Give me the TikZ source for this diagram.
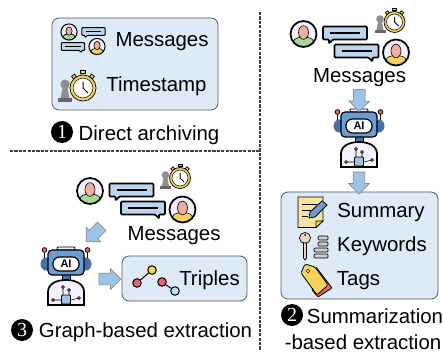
\documentclass[tikz,border=0pt]{standalone}
\usepackage{fontspec}
\setmainfont{Liberation Sans}
\usetikzlibrary{shapes.arrows}
\definecolor{boxblue}{HTML}{DEEAF7}
\definecolor{arrowblue}{HTML}{9DC3E6}
\definecolor{skin}{HTML}{EFAE9B}
\definecolor{shirtgreen}{HTML}{A5D89A}
\definecolor{shirtyellow}{HTML}{F5D25E}
\definecolor{robotblue}{HTML}{6C9BD8}
\definecolor{robotdark}{HTML}{4A6FA8}
\definecolor{dotred}{HTML}{E8636B}
\definecolor{pawngray}{HTML}{8E8E8E}
\newcommand{\iconlw}{1.7pt}
\tikzset{
  small icon/.code = {\def\iconlw{1pt}},
  iconline/.style = {line width=\iconlw, draw=black},
  panel/.style = {draw=black!65, fill=boxblue, line width=.8pt, rounded corners=7pt},
  label/.style = {font=\fontsize{20.4}{24}\selectfont, inner sep=0pt, outer sep=0pt},
  numdot/.style = {circle, fill=black, text=white, inner sep=0pt, minimum size=22pt,
                   font=\fontsize{20}{20}\selectfont\bfseries\setmainfont{Liberation Serif}},
  sepline/.style = {dashed, draw=black!75, line width=1.2pt, dash pattern=on 3.2pt off 1.2pt},
  flowarrow/.style = {single arrow, draw=black!45, fill=arrowblue, line width=.7pt, sloped,
                      allow upside down, inner xsep=0pt, inner ysep=5.5pt, text height=0pt, text depth=0pt,
                      minimum height=22pt, single arrow head extend=4.5pt, single arrow tip angle=90},
  tripledot/.style = {circle, draw=black, line width=1pt, inner sep=0pt, minimum size=8.5pt},
  pics/person/.style = {code = {
    \fill[blue!6] (0,0) circle (13);
    \begin{scope}
      \clip (0,0) circle (13);
      \draw[line width=.6pt, fill=#1] (-10,13) -- (-10,8) .. controls (-10,4.5) and (-5,3) .. (0,3)
        .. controls (5,3) and (10,4.5) .. (10,8) -- (10,13) -- cycle;
      \draw[line width=.6pt, fill=skin] (0,-1.5) ellipse (5 and 6.8);
    \end{scope}
    \draw[iconline] (0,0) circle (13);
  }},
  pics/bubble/.style = {code = {
    \draw[iconline, fill=arrowblue!70, rounded corners=1pt]
      (-22,-6.5) -- (22,-6.5) -- (22,6.5) -- (-12,6.5) -- (-16,10.5) -- (-16,6.5) -- (-22,6.5) -- cycle;
    \draw[iconline] (-15,0) -- (15,0);
  }},
  pics/chat/.style = {code = {
    \pic at (0,0) {person=shirtgreen};
    \pic at (41.5,-1) {bubble};
    \pic[xscale=-1] at (53,17) {bubble};
    \pic at (92.5,18.5) {person=shirtyellow};
  }},
  pics/stopwatch/.style = {code = {
    \fill[pawngray] (-14.5,-3) circle (3.8);
    \fill[pawngray] (-16.5,0) -- (-12.5,0) -- (-11,8) -- (-18,8) -- cycle;
    \fill[black!60] (-20,8) rectangle (-9,11);
    \draw[line width=.7pt, fill=shirtyellow] (-2,-14) rectangle (2,-12);
    \draw[line width=.7pt, fill=shirtyellow, rotate=38] (-1.5,-13) rectangle (1.5,-10.5);
    \draw[line width=.7pt, fill=shirtyellow, rotate=-38] (-1.5,-13) rectangle (1.5,-10.5);
    \draw[line width=.7pt, fill=shirtyellow] (0,0) circle (10.5);
    \draw[line width=.5pt, fill=white] (0,0) circle (8);
    \draw[line width=1pt] (0,-5) -- (0,0) -- (4,4);
  }},
  pics/robot/.style = {code = {
    \coordinate (-top) at (0,-30);
    \coordinate (-bottom) at (0,30);
    \coordinate (-right) at (26,3);
    \draw[line width=.8pt] (-21.5,-26) -- (-21.5,-12) (21.5,-26) -- (21.5,-12);
    \draw[line width=.7pt, fill=dotred] (-21.5,-26) circle (2.4) (21.5,-26) circle (2.4);
    \fill[robotdark] (-20,-12) ellipse (5.5 and 6.5) (20,-12) ellipse (5.5 and 6.5);
    \draw[line width=.8pt, fill=blue!5, rounded corners=1pt] (-9,-29) rectangle (9,-26);
    \draw[line width=.9pt, fill=robotdark] (-4,-2) rectangle (4,5);
    \draw[line width=1.2pt, fill=robotblue, rounded corners=4pt] (-18,-26) rectangle (18,-1);
    \draw[line width=1.2pt, fill=white, rounded corners=6.5pt] (-13,-19) rectangle (13,-5);
    \node[inner sep=0pt, font=\fontsize{11}{11}\selectfont\bfseries] (-face) at (0,-12) {AI};
    \draw[iconline, fill=blue!5] (-18,29) -- (-18,16) .. controls (-18,8) and (-10,4) .. (0,4)
      .. controls (10,4) and (18,8) .. (18,16) -- (18,29) -- cycle;
    \draw[line width=.6pt] (-3,11) -- (-3,19) (3,13) -- (3,19) (-13,24) -- (-5,24) (13,22) -- (5,24);
    \draw[line width=.6pt, fill=dotred] (-3,11) circle (1.5) (3,14) circle (1.5)
      (-13,24) circle (1.5) (13,22) circle (1.5);
    \draw[line width=.8pt, fill=arrowblue, rounded corners=1pt] (-4.5,19) rectangle (4.5,28);
  }},
  pics/note/.style = {code = {
    \draw[line width=.8pt, fill=shirtyellow!60] (298,197) -- (323,197) -- (323,221) -- (316,227.5) -- (298,227.5) -- cycle;
    \draw[line width=.8pt, fill=shirtyellow] (316,227.5) -- (316,221) -- (323,221) -- cycle;
    \draw[line width=.7pt] (302,204) -- (317,204) (302,210) -- (313,210) (302,216) -- (308,216);
    \draw[line width=.8pt, fill=robotblue] (309,218) -- (310,212) -- (322,201) -- (327,205) -- (315,217) -- cycle;
  }},
  pics/keylist/.style = {code = {
    \draw[line width=.7pt, fill=black!25!orange!25!white] (305,238) circle (5.5);
    \draw[line width=.7pt, fill=black!25!orange!25!white] (303.5,243) -- (303.5,258) -- (305,260) -- (306.5,258) -- (306.5,243) -- cycle;
    \fill[black] (305,235) circle (1);
    \foreach \barx/\bary in {318/236, 318/242, 314/248, 314/254}
      \draw[line width=.7pt, fill=black!20, rounded corners=1pt] (\barx,\bary) rectangle (328,\bary+4);
  }},
  pics/tagpair/.style = {code = {
    \draw[line width=.8pt, fill=dotred, rounded corners=1pt] (316,267) -- (332,288) -- (318,297) -- (312,290) -- cycle;
    \draw[line width=.8pt, fill=shirtyellow, rounded corners=1.5pt] (305,264) -- (301,273) -- (317,295) -- (328,285) -- (315,267) -- cycle;
    \draw[line width=.6pt, fill=white] (308,271) circle (1.8);
  }}
}
\begin{document}
\begin{tikzpicture}[x=1pt, y=-1pt]
  \useasboundingbox (0,0) rectangle (443,352);

  % separators
  \coordinate (sepleft) at (10,151);
  \coordinate (sepmid) at (260,151);
  \coordinate (septop) at (260,12);
  \coordinate (sepbot) at (260,350);
  \draw[sepline] (sepleft) -- (sepmid);
  \draw[sepline] (septop) -- (sepbot);

  % direct archiving
  \draw[panel] (52,18) rectangle (218,110);
  \pic[scale=.62, small icon] at (69,32) {person=shirtgreen};
  \pic[xscale=.53, yscale=.6, small icon] at (93.5,31.5) {bubble};
  \pic[xscale=-.53, yscale=.6, small icon] at (73,46.5) {bubble};
  \pic[scale=.62, small icon] at (97,46.5) {person=shirtyellow};
  \node[label] (msgsA) at (162,42) {Messages};
  \pic[scale=1.24, small icon] at (83,88) {stopwatch};
  \node[label] (timeA) at (156.5,86.5) {Timestamp};
  \node[numdot] (numA) at (62,132) {1};
  \node[label] (capA) at (149,135) {Direct archiving};

  % summarization
  \pic at (303.5,34) {chat};
  \pic at (394.5,22) {stopwatch};
  \node[label] (msgsB) at (359.5,78) {Messages};
  \pic (robotB) at (359,138) {robot};
  \draw[panel] (281,192) rectangle (438,299);
  \node[coordinate] (panelB) at (359,192) {};
  \path (msgsB.south) -- node[flowarrow] (arrowB) {} (robotB-top);
  \path (robotB-bottom) -- node[flowarrow] (arrowBB) {} (panelB);
  \pic at (0,0) {note};
  \node[label] (sumB) at (381,212) {Summary};
  \pic at (0,0) {keylist};
  \node[label] (keyB) at (382,246) {Keywords};
  \pic at (0,0) {tagpair};
  \node[label] (tagB) at (358.5,281) {Tags};
  \node[numdot] (numB) at (292,315) {2};
  \node[label] (capB) at (375,316.5) {Summarization};
  \node[label] (capBB) at (363,342) {-based extraction};

  % graph-based
  \pic at (90,191) {chat};
  \pic at (180,178) {stopwatch};
  \node[label] (msgsC) at (174,236) {Messages};
  \pic (robotC) at (66,276) {robot};
  \draw[panel] (122,256) rectangle (247,301);
  \node[coordinate] (panelC) at (122,279) {};
  \coordinate (fromC) at (105,223);
  \coordinate (toC) at (87,241);
  \path (fromC) -- node[flowarrow] (arrowC) {} (toC);
  \path (robotC-right) -- node[flowarrow] (arrowCC) {} (panelC);
  \node[tripledot, fill=dotred] (tripleA) at (137,283) {};
  \node[tripledot, fill=shirtyellow] (tripleB) at (152,270) {};
  \node[tripledot, fill=dotred] (tripleC) at (162,282) {};
  \node[tripledot, fill=cyan!30] (tripleD) at (175,291) {};
  \draw[line width=1pt] (tripleA) -- (tripleB);
  \draw[line width=1pt] (tripleC) -- (tripleD);
  \node[label] (tripleT) at (209.5,280.5) {Triples};
  \node[numdot] (numC) at (22,330) {3};
  \node[label] (capC) at (145.5,332) {Graph-based extraction};
\end{tikzpicture}
\end{document}
